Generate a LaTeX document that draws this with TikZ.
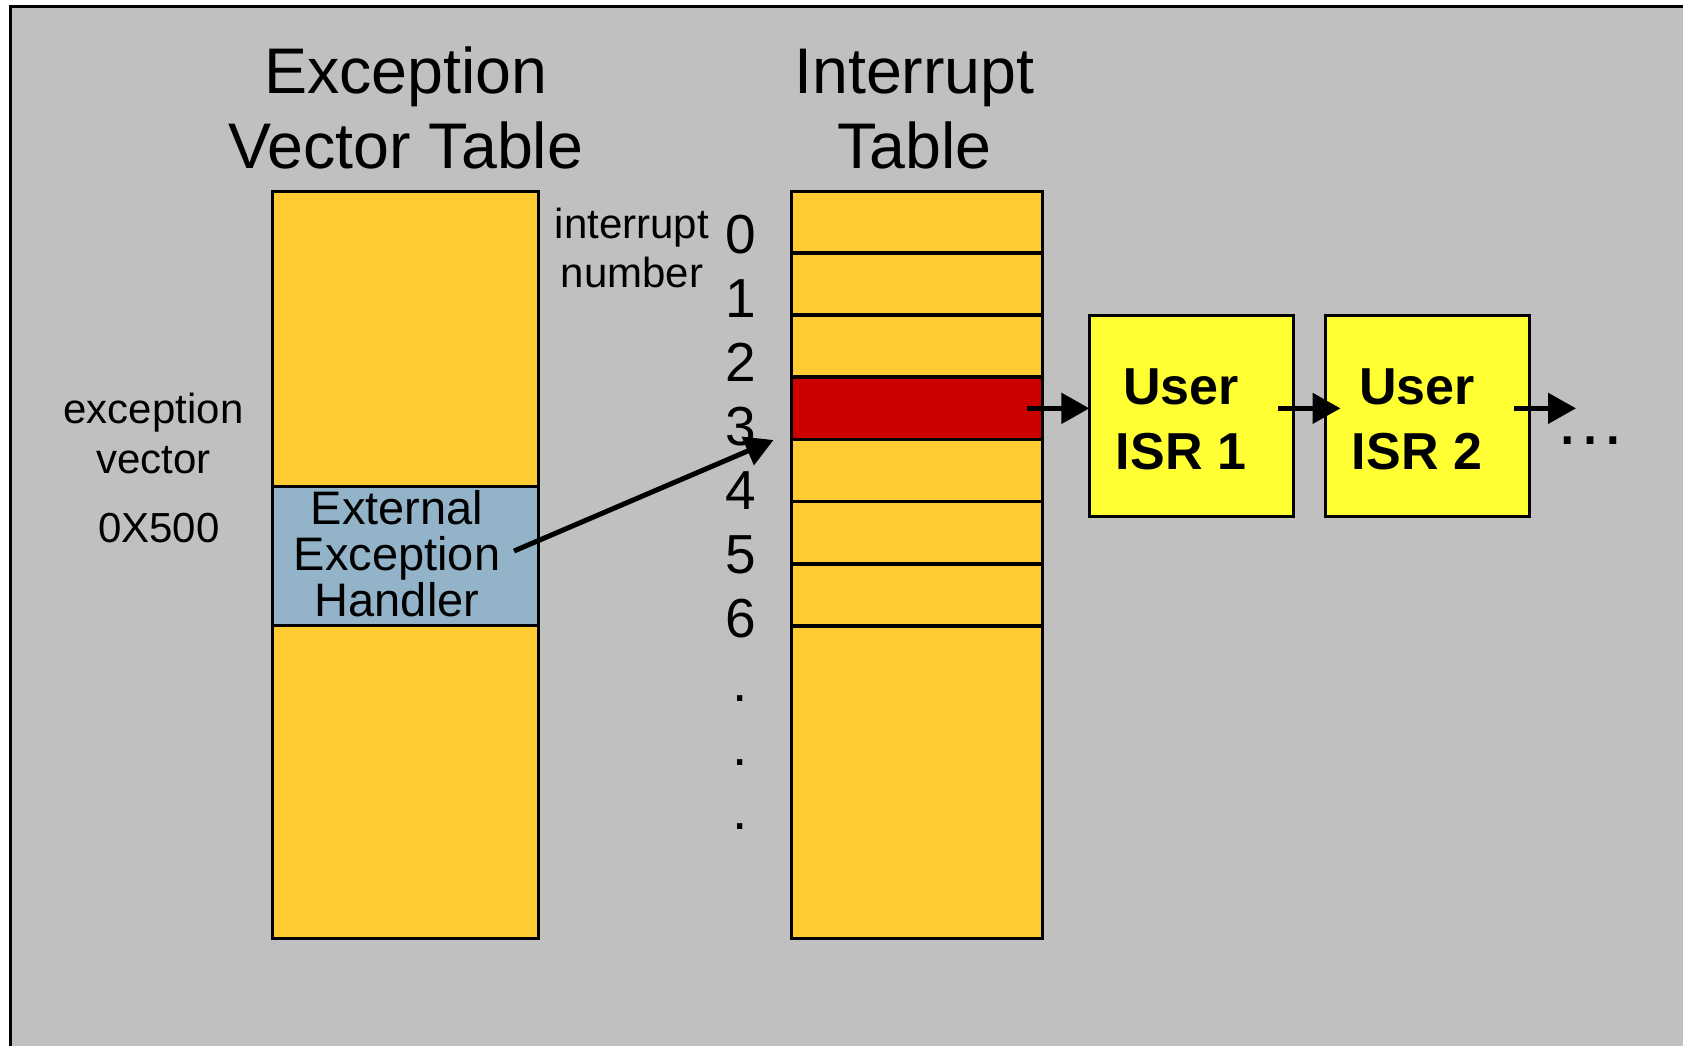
\documentclass[tikz,border=0pt]{standalone}
\usepackage{fontspec}
\setmainfont{Liberation Sans}
\usetikzlibrary{arrows.meta,calc}
\definecolor{panelgray}{HTML}{C0C0C0}
\definecolor{slotgold}{HTML}{FFCC33}
\definecolor{handlerblue}{HTML}{93B3C9}
\definecolor{activered}{HTML}{CC0000}
\definecolor{isryellow}{HTML}{FFFF33}

\begin{document}
\begin{tikzpicture}[x=1pt,y=-1pt,
  every node/.style={inner sep=0pt, outer sep=0pt},
  column/.style={draw=black, line width=3pt, fill=slotgold, anchor=north west},
  slot/.style={fill=slotgold, anchor=north west,
               minimum width=251pt, minimum height=62.1pt},
  isrbox/.style={draw=black, line width=3pt, fill=isryellow, anchor=north west,
                 minimum width=203.9pt, minimum height=200.8pt},
  headtext/.style={anchor=base, font=\fontsize{64.5}{64.5}\selectfont},
  sidetext/.style={anchor=base, font=\fontsize{42}{42}\selectfont},
  numtext/.style={anchor=base, font=\fontsize{55}{55}\selectfont},
  handlertext/.style={anchor=base, font=\fontsize{47}{47}\selectfont},
  isrtext/.style={anchor=base, font=\fontsize{52}{52}\selectfont\bfseries},
  divider/.style={line width=3.8pt},
  link/.style={line width=5pt, -{Triangle[length=28pt,width=30pt]}}
]
\useasboundingbox (0,0) rectangle (1683,1045);
\clip (0,0) rectangle (1683,1045);
\fill[white] (0,0) rectangle (1683,1045);

% gray panel, running off the right and bottom edges
\draw[line width=3pt, fill=panelgray] (10.5,6.5) rectangle (1720,1080);

% headings
\node[headtext] (evth1) at (405.7,93.5) {Exception};
\node[headtext] (evth2) at (405.7,168.5) {Vector Table};
\node[headtext] (ith1) at (914.5,93.5) {Interrupt};
\node[headtext] (ith2) at (914.5,168.5) {Table};

% exception vector table
\node[column, minimum width=266.2pt, minimum height=747pt] (evt) at (272.6,191) {};
\node[column, fill=handlerblue, minimum width=266.2pt, minimum height=139.7pt] (handler) at (272.6,486) {};
\node[handlertext] (hl1) at (397,524) {External};
\node[handlertext] (hl2) at (397,570) {Exception};
\node[handlertext] (hl3) at (397,616) {Handler};

% side labels of the exception table
\node[sidetext] (ev1) at (153.5,423) {exception};
\node[sidetext] (ev2) at (153.5,473) {vector};
\node[sidetext] (ev3) at (159,542) {0X500};

% interrupt table: slots, dividers, outline
\node[column, minimum width=251pt, minimum height=747pt] (itab) at (791,191) {};
\node[slot] (row0) at (791,191) {};
\node[slot] (row1) at (791,253.1) {};
\node[slot] (row2) at (791,315.2) {};
\node[slot, fill=activered] (row3) at (791,377.3) {};
\node[slot] (row4) at (791,439.4) {};
\node[slot] (row5) at (791,501.5) {};
\node[slot] (row6) at (791,563.6) {};
\foreach \r in {0,...,6}
  \draw[divider] (row\r.south west) -- (row\r.south east);
\draw[line width=3pt] (itab.north west) rectangle (itab.south east);

% interrupt numbers
\node[sidetext] (in1) at (632,238) {interrupt};
\node[sidetext] (in2) at (632,287.6) {number};
\node[numtext] (n0) at (740.6,253.3) {0};
\node[numtext] (n1) at (740.6,317.3) {1};
\node[numtext] (n2) at (740.6,381.3) {2};
\node[numtext] (n3) at (740.6,445.3) {3};
\node[numtext] (n4) at (740.6,509.3) {4};
\node[numtext] (n5) at (740.6,573.3) {5};
\node[numtext] (n6) at (740.6,637.3) {6};
\node[numtext] (d1) at (740.6,701.3) {.};
\node[numtext] (d2) at (740.6,765.3) {.};
\node[numtext] (d3) at (740.6,829.3) {.};

% user ISR chain
\node[isrbox] (isr1) at (1089.4,315.5) {};
\node[isrbox] (isr2) at (1325.5,315.5) {};
\node[isrtext] (u1a) at (1181,404.6) {User};
\node[isrtext] (u1b) at (1181,469) {ISR 1};
\node[isrtext] (u2a) at (1417,404.6) {User};
\node[isrtext] (u2b) at (1417,469) {ISR 2};
\node[anchor=base, font=\fontsize{72}{72}\selectfont] (more) at (1590,444) {…};

% connectors
\coordinate (hs) at (514,551);
\coordinate (he) at (773.5,440);
\draw[link] (hs) -- (he);

\coordinate (a1s) at ($(row3.east)+(-15,0)$);
\coordinate (a1e) at (isr1.west |- row3.east);
\coordinate (a2s) at ($(isr1.east |- row3.east)+(-15,0)$);
\coordinate (a2e) at ($(isr2.west |- row3.east)+(15,0)$);
\coordinate (a3s) at ($(isr2.east |- row3.east)+(-15,0)$);
\coordinate (a3e) at (1576,408.35);
\draw[link] (a1s) -- (a1e);
\draw[link] (a2s) -- (a2e);
\draw[link] (a3s) -- (a3e);
\end{tikzpicture}
\end{document}
